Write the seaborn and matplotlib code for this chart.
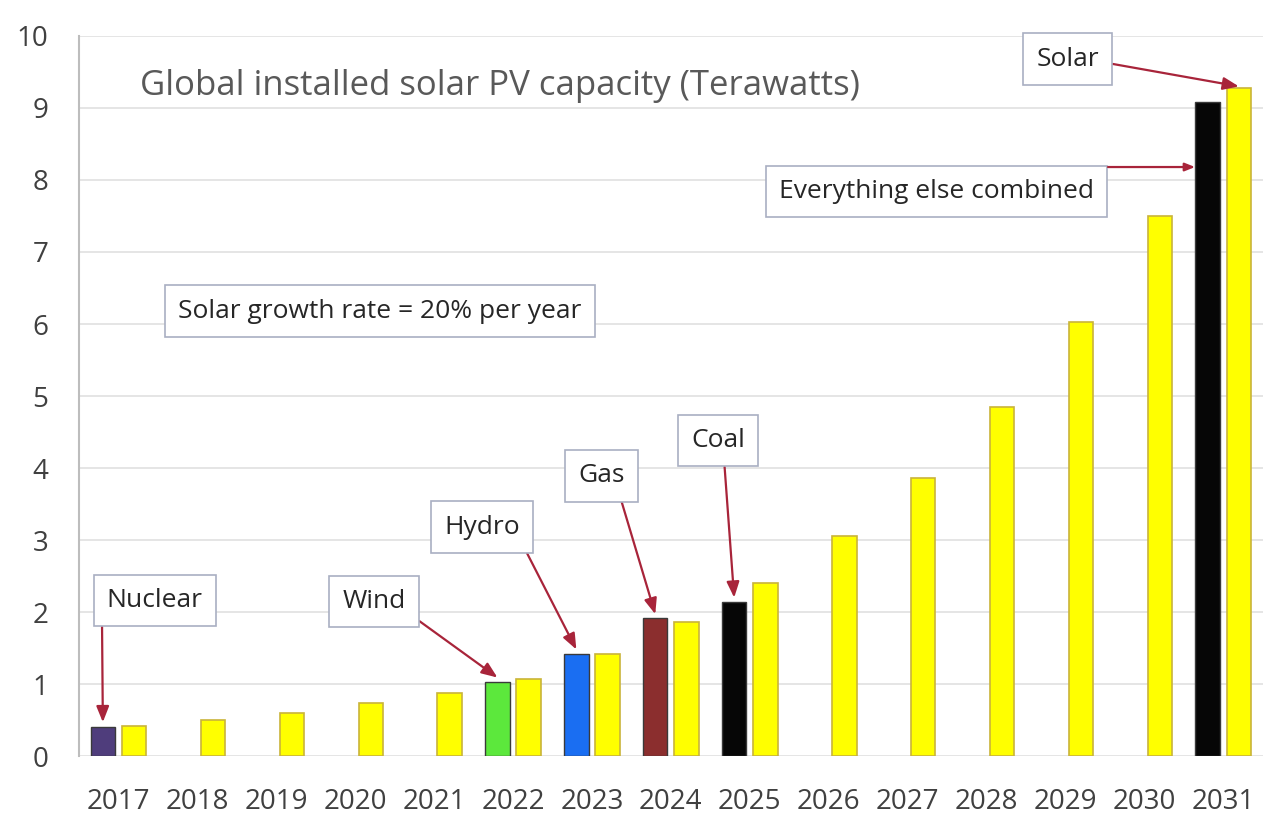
import pandas as pd
import matplotlib.pyplot as plt
import seaborn as sns

# solar capacity per year (TW)
years = [str(y) for y in range(2017, 2032)]
solar_tw = [0.42, 0.50, 0.60, 0.74, 0.88, 1.07, 1.42, 1.86, 2.40, 3.06, 3.86, 4.85, 6.03, 7.50, 9.28]

# other sources, shown next to the year solar catches up with them
other_years = ['2017', '2022', '2023', '2024', '2025', '2031']
other_names = ['Nuclear', 'Wind', 'Hydro', 'Gas', 'Coal', 'Everything else combined']
other_tw = [0.41, 1.03, 1.42, 1.91, 2.14, 9.09]
other_colors = ['#4f3d7c', '#5ce83c', '#1a6ef2', '#8b2e2e', '#060606', '#060606']

title = 'Global installed solar PV capacity (Terawatts)'
growth_note = 'Solar growth rate = 20% per year'

sns.set_theme(style="white")
plt.rcParams['font.family'] = ['Open Sans', 'DejaVu Sans']

df = pd.concat([
    pd.DataFrame({'year': other_years, 'series': 'other', 'tw': other_tw}),
    pd.DataFrame({'year': years, 'series': 'solar', 'tw': solar_tw}),
], ignore_index=True)

fig = plt.figure(figsize=(12.8, 8.16), dpi=100)
ax = fig.add_axes([0.0617, 0.0735, 0.9248, 0.8824])

sns.barplot(data=df, x='year', y='tw', hue='series', order=years,
            hue_order=['other', 'solar'], palette={'other': '#060606', 'solar': '#ffff00'},
            saturation=1, width=0.79, gap=0.215, legend=False, ax=ax)

color_by_year = dict(zip(other_years, other_colors))
for bar in ax.containers[0]:
    i = int(round(bar.get_x() + bar.get_width() / 2))
    bar.set_facecolor(color_by_year[years[i]])
    bar.set_edgecolor('#3a3a3a')
    bar.set_linewidth(1.0)
for bar in ax.containers[1]:
    bar.set_edgecolor('#c9b43a')
    bar.set_linewidth(1.2)

ax.set_ylim(0, 10)
ax.set_xlim(-0.5, len(years) - 0.5)
ax.set_yticks(range(0, 11))
ax.yaxis.grid(True, color='#e3e3e3', linewidth=1.3)
ax.set_axisbelow(True)
ax.set_xlabel('')
ax.set_ylabel('')
for side in ['top', 'right', 'bottom']:
    ax.spines[side].set_visible(False)
ax.spines['left'].set_color('#bdbdbd')
ax.spines['left'].set_linewidth(1.5)
ax.tick_params(axis='y', length=0, pad=22, labelsize=20, labelcolor='#404040')
ax.tick_params(axis='x', length=0, pad=23, labelsize=20, labelcolor='#404040')

ax.text(0.0515, 0.931, title, transform=ax.transAxes, ha='left', va='center',
        fontsize=25, color='#595959')

box = dict(boxstyle='square,pad=0.5', fc='white', ec='#a9afc2', lw=1.2)
arrow = dict(arrowstyle='-|>,head_length=0.5,head_width=0.2', color='#a8243a',
             lw=1.6, shrinkA=0, shrinkB=0)

ax.text(3.31, 6.18, growth_note, ha='center', va='center', fontsize=19,
        color='#262626', bbox=box)

# label position (data units) and where the arrow leaves the box
label_layout = {
    'Nuclear': ((0.46, 2.16), (-0.05, 0.0)),
    'Wind': ((3.24, 2.15), (1.0, 0.1)),
    'Hydro': ((4.61, 3.18), (1.0, 0.0)),
    'Gas': ((6.12, 3.89), (0.85, 0.0)),
    'Coal': ((7.60, 4.38), (0.6, 0.0)),
}
offset = 0.395 / 2
for name, yr, val in zip(other_names, other_years, other_tw):
    if name not in label_layout:
        continue
    (tx, ty), rel = label_layout[name]
    ax.annotate(name, xy=(years.index(yr) - offset, val + 0.06), xytext=(tx, ty),
                ha='center', va='center', fontsize=19, color='#262626', bbox=box,
                arrowprops=dict(arrow, relpos=rel))

# everything else combined -> left side of the 2031 black bar
i_last = years.index(other_years[-1])
ax.text(10.37, 7.84, other_names[-1], ha='center', va='center', fontsize=19,
        color='#262626', bbox=box)
ax.annotate('', xy=(i_last - offset - 0.16, 8.18), xytext=(12.54, 8.18),
            arrowprops=arrow)

# solar -> top of the 2031 yellow bar
ax.annotate('Solar', xy=(i_last + offset, solar_tw[-1] + 0.02), xytext=(12.03, 9.68),
            ha='center', va='center', fontsize=19, color='#262626', bbox=box,
            arrowprops=dict(arrow, relpos=(1.0, 0.4)))

fig.savefig('out.png', dpi=100)
